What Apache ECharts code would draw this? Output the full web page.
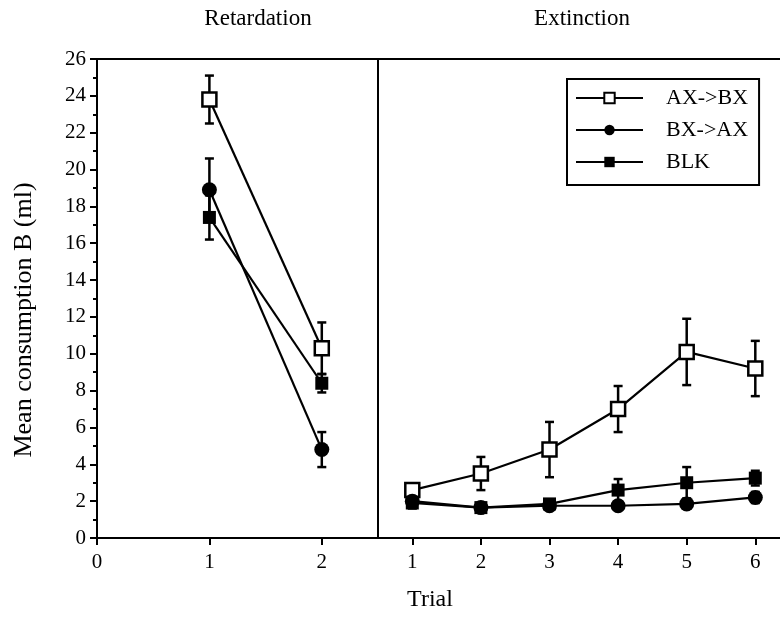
<!DOCTYPE html>
<html>
<head>
<meta charset="utf-8">
<script src="https://cdn.jsdelivr.net/npm/echarts@6/dist/echarts.min.js"></script>
<style>html,body{margin:0;padding:0;background:#fff}#c{width:780px;height:625px}</style>
</head>
<body>
<div id="c"></div>
<script>
var FONT = '"Liberation Serif", "Times New Roman", serif';

var retTrials = [1, 2];
var extTrials = [1, 2, 3, 4, 5, 6];
var leftTicks = [0, 1, 2];
var rightTicks = [1, 2, 3, 4, 5, 6];

var axbxRet = [23.8, 10.3];
var axbxRetErr = [1.3, 1.4];
var bxaxRet = [18.9, 4.8];
var bxaxRetErr = [1.7, 0.95];
var blkRet = [17.4, 8.4];
var blkRetErr = [1.2, 0.5];

var axbxExt = [2.6, 3.5, 4.8, 7.0, 10.1, 9.2];
var axbxExtErr = [0.3, 0.9, 1.5, 1.25, 1.8, 1.5];
var bxaxExt = [2.0, 1.65, 1.75, 1.75, 1.85, 2.2];
var bxaxExtErr = [0.2, 0.1, 0.1, 0.1, 0.1, 0.3];
var blkExt = [1.9, 1.65, 1.85, 2.6, 3.0, 3.25];
var blkExtErr = [0.3, 0.1, 0.15, 0.6, 0.85, 0.4];

var names = ['AX->BX', 'BX->AX', 'BLK'];

function pts(xs, ys) { return xs.map(function (x, i) { return [x, ys[i]]; }); }
function errs(xs, ys, es) { return xs.map(function (x, i) { return [x, ys[i] - es[i], ys[i] + es[i]]; }); }

var styles = {
  'AX->BX': { symbol: 'rect', symbolSize: 14, itemStyle: { color: '#fff', borderColor: '#000', borderWidth: 2.5 } },
  'BX->AX': { symbol: 'circle', symbolSize: 15, itemStyle: { color: '#000', borderColor: '#000', borderWidth: 0 } },
  'BLK': { symbol: 'rect', symbolSize: 13, itemStyle: { color: '#000', borderColor: '#000', borderWidth: 0 } }
};

function lineSeries(name, data, gi) {
  var s = styles[name];
  return {
    type: 'line', name: name, data: data, xAxisIndex: gi, yAxisIndex: gi,
    symbol: s.symbol, symbolSize: s.symbolSize, showAllSymbol: true,
    itemStyle: s.itemStyle, lineStyle: { color: '#000', width: 2.2 },
    z: 3, animation: false, silent: true
  };
}

function errSeries(name, data, gi) {
  return {
    type: 'custom', name: name + ' err', xAxisIndex: gi, yAxisIndex: gi, data: data, z: 2,
    encode: { x: 0, y: [1, 2] }, silent: true, animation: false,
    renderItem: function (params, api) {
      var x = api.value(0);
      var lo = api.coord([x, api.value(1)]);
      var hi = api.coord([x, api.value(2)]);
      var w = 4.5;
      var st = { stroke: '#000', lineWidth: 2.5 };
      return {
        type: 'group', children: [
          { type: 'line', shape: { x1: lo[0], y1: lo[1], x2: hi[0], y2: hi[1] }, style: st },
          { type: 'line', shape: { x1: hi[0] - w, y1: hi[1], x2: hi[0] + w, y2: hi[1] }, style: st },
          { type: 'line', shape: { x1: lo[0] - w, y1: lo[1], x2: lo[0] + w, y2: lo[1] }, style: st }
        ]
      };
    }
  };
}

var axisLineStyle = { show: true, lineStyle: { color: '#000', width: 2 } };

var option = {
  backgroundColor: '#fff',
  animation: false,
  grid: [
    { left: 97, top: 59, width: 281, bottom: 87 },
    { left: 378, top: 59, right: 0, bottom: 87 }
  ],
  xAxis: [
    { type: 'value', gridIndex: 0, min: 0, max: 2.5, position: 'bottom',
      axisLine: axisLineStyle, splitLine: { show: false },
      axisTick: { show: true, inside: false, length: 7, customValues: leftTicks, lineStyle: { color: '#000', width: 2 } },
      axisLabel: { show: true, customValues: leftTicks, margin: 14, color: '#000', fontFamily: FONT, fontSize: 21 } },
    { type: 'value', gridIndex: 1, min: 0.5, max: 6.36, position: 'bottom',
      axisLine: axisLineStyle, splitLine: { show: false },
      axisTick: { show: true, inside: false, length: 7, customValues: rightTicks, lineStyle: { color: '#000', width: 2 } },
      axisLabel: { show: true, customValues: rightTicks, margin: 14, color: '#000', fontFamily: FONT, fontSize: 21 } },
    { type: 'value', gridIndex: 0, min: 0, max: 2.5, position: 'top',
      axisLine: axisLineStyle, axisTick: { show: false }, axisLabel: { show: false }, splitLine: { show: false } },
    { type: 'value', gridIndex: 1, min: 0.5, max: 6.36, position: 'top',
      axisLine: axisLineStyle, axisTick: { show: false }, axisLabel: { show: false }, splitLine: { show: false } }
  ],
  yAxis: [
    { type: 'value', gridIndex: 0, min: 0, max: 26, interval: 2,
      axisLine: axisLineStyle, splitLine: { show: false },
      axisTick: { show: true, inside: false, length: 7, lineStyle: { color: '#000', width: 2 } },
      minorTick: { show: true, splitNumber: 2, length: 4, lineStyle: { color: '#000', width: 2 } },
      axisLabel: { color: '#000', fontFamily: FONT, fontSize: 21, margin: 11 } },
    { type: 'value', gridIndex: 1, min: 0, max: 26, interval: 2, position: 'left',
      axisLine: axisLineStyle, splitLine: { show: false },
      axisTick: { show: false }, axisLabel: { show: false } }
  ],
  legend: {
    show: true, orient: 'vertical', left: 567, top: 79,
    data: names, selectedMode: false,
    itemWidth: 67, itemHeight: 13, itemGap: 10,
    borderColor: '#000', borderWidth: 2, padding: [8, 11, 12, 8],
    textStyle: { color: '#000', fontFamily: FONT, fontSize: 22, padding: [0, 0, 0, 18] }
  },
  graphic: [
    { type: 'text', x: 258, y: 19, style: { text: 'Retardation', font: '23px ' + FONT, fill: '#000', textAlign: 'center', textVerticalAlign: 'middle' } },
    { type: 'text', x: 582, y: 19, style: { text: 'Extinction', font: '23px ' + FONT, fill: '#000', textAlign: 'center', textVerticalAlign: 'middle' } },
    { type: 'text', x: 430, y: 600, style: { text: 'Trial', font: '24px ' + FONT, fill: '#000', textAlign: 'center', textVerticalAlign: 'middle' } },
    { type: 'text', x: 24, y: 320, rotation: Math.PI / 2, style: { text: 'Mean consumption B (ml)', font: '26px ' + FONT, fill: '#000', textAlign: 'center', textVerticalAlign: 'middle' } }
  ],
  series: [
    errSeries('AX->BX', errs(retTrials, axbxRet, axbxRetErr), 0),
    errSeries('BX->AX', errs(retTrials, bxaxRet, bxaxRetErr), 0),
    errSeries('BLK', errs(retTrials, blkRet, blkRetErr), 0),
    errSeries('AX->BX', errs(extTrials, axbxExt, axbxExtErr), 1),
    errSeries('BX->AX', errs(extTrials, bxaxExt, bxaxExtErr), 1),
    errSeries('BLK', errs(extTrials, blkExt, blkExtErr), 1),
    lineSeries('AX->BX', pts(retTrials, axbxRet), 0),
    lineSeries('BX->AX', pts(retTrials, bxaxRet), 0),
    lineSeries('BLK', pts(retTrials, blkRet), 0),
    lineSeries('AX->BX', pts(extTrials, axbxExt), 1),
    lineSeries('BX->AX', pts(extTrials, bxaxExt), 1),
    lineSeries('BLK', pts(extTrials, blkExt), 1)
  ]
};

var chart = echarts.init(document.getElementById('c'), null, { renderer: 'canvas' });
chart.setOption(option);
</script>
</body>
</html>
